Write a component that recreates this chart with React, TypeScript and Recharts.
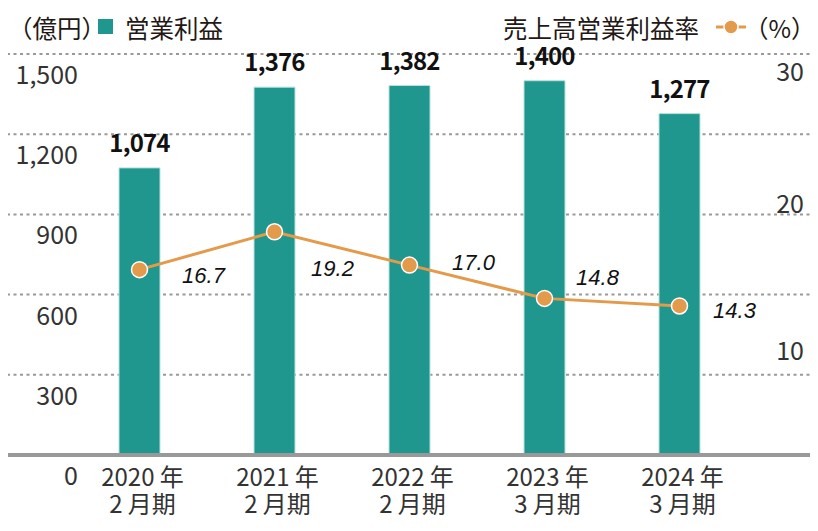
import { ComposedChart, Bar, Line, XAxis, YAxis, CartesianGrid, LabelList } from 'recharts'

const years = ['2020 年', '2021 年', '2022 年', '2023 年', '2024 年']
const periods = ['2 月期', '2 月期', '2 月期', '3 月期', '3 月期']
const operatingProfit = [1074, 1376, 1382, 1400, 1277]
const profitRate = [16.7, 19.2, 17.0, 14.8, 14.3]
const leftTicks = [0, 300, 600, 900, 1200, 1500]
const rightTicks = [10, 20, 30]

const data = years.map((year, i) => ({
   key: String(i),
   year,
   period: periods[i],
   profit: operatingProfit[i],
   rate: profitRate[i],
}))

const FONT = '"Noto Sans CJK JP", "Noto Sans", sans-serif'
const TEAL = '#1f968e'
const ORANGE = '#e39b4b'
const TEXT = '#333'

const LeftTick = (props: any) => {
   const { y, payload } = props
   return (
      <text x={ 78 } y={ y + 19 } textAnchor="end" dominantBaseline="central" fontFamily={ FONT } fontSize={ 25 } fill={ TEXT }>
         { Number(payload.value).toLocaleString('en-US') }
      </text>
   )
}

// the right labels in the source are not evenly spaced, so nudge each one
const rightNudge: Record<number, number> = { 30: 2, 20: -18, 10: -22 }

const RightTick = (props: any) => {
   const { y, payload } = props
   return (
      <text x={ 804 } y={ y + (rightNudge[payload.value] ?? 0) } textAnchor="end" dominantBaseline="central" fontFamily={ FONT } fontSize={ 25 } fill={ TEXT }>
         { payload.value }
      </text>
   )
}

const CategoryTick = (props: any) => {
   const { x, y, index } = props
   return (
      <g>
         <text x={ x + 3 } y={ y + 20 } textAnchor="middle" dominantBaseline="central" fontFamily={ FONT } fontSize={ 24 } fill={ TEXT }>{ years[index] }</text>
         <text x={ x + 3 } y={ y + 47 } textAnchor="middle" dominantBaseline="central" fontFamily={ FONT } fontSize={ 24 } fill={ TEXT }>{ periods[index] }</text>
      </g>
   )
}

const rateLabelShift = [
   { dx: 64, dy: 6 },
   { dx: 58, dy: 37 },
   { dx: 64, dy: -3 },
   { dx: 53, dy: -21 },
   { dx: 55, dy: 5 },
]

const RateLabel = (props: any) => {
   const { x, y, index, value } = props
   const s = rateLabelShift[index] ?? { dx: 55, dy: 0 }
   return (
      <text x={ x + s.dx } y={ y + s.dy } textAnchor="middle" dominantBaseline="central" fontFamily='"Liberation Sans", Arial, sans-serif' fontStyle="italic" fontSize={ 22 } fill="#111">
         { Number(value).toFixed(1) }
      </text>
   )
}

const Header = () => (
   <svg width={ 818 } height={ 50 } style={ { position: 'absolute', left: 0, top: 0 } }>
      <g fontFamily={ FONT } fontSize={ 24.5 } fill="#231815" dominantBaseline="central">
         <text x={ 8 } y={ 27 }>（億円）</text>
         <rect x={ 98 } y={ 19 } width={ 15 } height={ 15 } fill={ TEAL } />
         <text x={ 125 } y={ 27 }>営業利益</text>
         <text x={ 503 } y={ 27 }>売上高営業利益率</text>
         <line x1={ 716 } x2={ 746 } y1={ 27 } y2={ 27 } stroke={ ORANGE } strokeWidth={ 3 } />
         <circle cx={ 731 } cy={ 27 } r={ 7 } fill={ ORANGE } stroke="#fff" strokeWidth={ 1.5 } />
         <text x={ 744 } y={ 27 }>（%）</text>
      </g>
   </svg>
)

export default function App() {
   return (
      <div style={ { position: 'relative', width: 818, height: 531, margin: -8, background: '#fff' } }>
         <ComposedChart width={ 818 } height={ 531 } data={ data } margin={ { top: 54, right: 2, bottom: 0, left: 6 } }>
            <CartesianGrid yAxisId="left" vertical={ false } stroke="#999" strokeWidth={ 2 } strokeDasharray="3 3.5" />
            <XAxis
               dataKey="key"
               height={ 76 }
               padding={ { left: 65, right: 68 } }
               tickLine={ false }
               tickSize={ 0 }
               tickMargin={ 0 }
               axisLine={ { stroke: '#999', strokeWidth: 4 } }
               tick={ <CategoryTick /> }
               interval={ 0 }
            />
            <YAxis yAxisId="left" width={ 1 } domain={ [0, 1500] } ticks={ leftTicks } interval={ 0 } axisLine={ false } tickLine={ false } tick={ <LeftTick /> } />
            <YAxis yAxisId="right" orientation="right" width={ 1 } type="number" domain={ [4.45, 30.95] } allowDataOverflow ticks={ rightTicks } interval={ 0 } axisLine={ false } tickLine={ false } tick={ <RightTick /> } />
            <Bar yAxisId="left" dataKey="profit" barSize={ 41 } fill={ TEAL } stroke="#b9e1dc" strokeWidth={ 1 } isAnimationActive={ false }>
               <LabelList
                  dataKey="profit"
                  position="top"
                  offset={ 16 }
                  formatter={ (v: any) => Number(v).toLocaleString('en-US') }
                  style={ { fontFamily: FONT, fontWeight: 700, fontSize: 24, fill: '#111', letterSpacing: -0.8 } }
               />
            </Bar>
            <Line
               yAxisId="right"
               dataKey="rate"
               stroke={ ORANGE }
               strokeWidth={ 3 }
               dot={ { r: 8, fill: ORANGE, stroke: '#fff', strokeWidth: 1.5 } }
               isAnimationActive={ false }
            >
               <LabelList dataKey="rate" content={ <RateLabel /> } />
            </Line>
         </ComposedChart>
         <Header />
      </div>
   )
}
